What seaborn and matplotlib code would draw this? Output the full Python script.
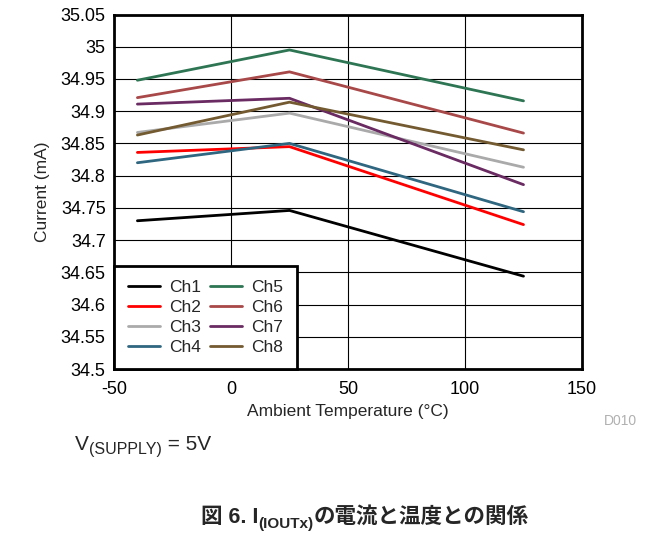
import matplotlib
matplotlib.use('Agg')
from matplotlib import pyplot as plt
import pandas as pd
import seaborn as sns

# temperatures measured (deg C)
temps = [-40, 25, 125]

# current per channel (mA)
ch1 = [34.730, 34.746, 34.644]
ch2 = [34.836, 34.845, 34.724]
ch3 = [34.867, 34.897, 34.813]
ch4 = [34.820, 34.850, 34.744]
ch5 = [34.948, 34.995, 34.916]
ch6 = [34.921, 34.961, 34.866]
ch7 = [34.911, 34.920, 34.786]
ch8 = [34.863, 34.914, 34.840]

channels = ['Ch1', 'Ch2', 'Ch3', 'Ch4', 'Ch5', 'Ch6', 'Ch7', 'Ch8']
colors = ['#000000', '#ff0000', '#aaaaaa', '#2f6680',
          '#2d7553', '#a84848', '#6a2a62', '#735a30']

y_ticks = [34.5, 34.55, 34.6, 34.65, 34.7, 34.75, 34.8, 34.85,
           34.9, 34.95, 35, 35.05]
y_labels = ['34.5', '34.55', '34.6', '34.65', '34.7', '34.75', '34.8',
            '34.85', '34.9', '34.95', '35', '35.05']
x_ticks = [-50, 0, 50, 100, 150]

sns.set_style('white')
plt.rcParams['font.family'] = ['Liberation Sans', 'Noto Sans CJK JP', 'DejaVu Sans']

rows = []
for name, vals in zip(channels, [ch1, ch2, ch3, ch4, ch5, ch6, ch7, ch8]):
    for t, v in zip(temps, vals):
        rows.append({'Temp': t, 'Current': v, 'Channel': name})
df = pd.DataFrame(rows)

fig = plt.figure(figsize=(6.69, 5.39), dpi=100)
ax = fig.add_axes([114 / 669, 1 - 369 / 539, 468 / 669, 354.5 / 539])

sns.lineplot(data=df, x='Temp', y='Current', hue='Channel', hue_order=channels,
             palette=colors, linewidth=2, ax=ax, legend=True)

ax.set_xlim(-50, 150)
ax.set_ylim(34.5, 35.05)
ax.set_xticks(x_ticks)
ax.set_xticklabels([str(t) for t in x_ticks])
ax.set_yticks(y_ticks)
ax.set_yticklabels(y_labels)
ax.tick_params(axis='both', length=0, labelsize=13, colors='black')
ax.tick_params(axis='x', pad=9)
ax.tick_params(axis='y', pad=6)
ax.grid(True, color='black', linewidth=0.8)
ax.set_axisbelow(True)
for s in ax.spines.values():
    s.set_color('black')
    s.set_linewidth(2)

ax.set_xlabel('Ambient Temperature (°C)', fontsize=12.5, labelpad=4)
ax.set_ylabel('Current (mA)', fontsize=12.5, labelpad=8)

leg = ax.legend(loc='lower left', ncol=2, fontsize=12.5, frameon=True,
                fancybox=False, borderaxespad=0, handlelength=1.85,
                handletextpad=0.5, columnspacing=0.55, labelspacing=0.28,
                borderpad=0.8)
leg.get_frame().set_edgecolor('black')
leg.get_frame().set_linewidth(2)
leg.get_frame().set_alpha(1)

fig.text(620 / 669, 1 - 421 / 539, 'D010', fontsize=10, color='#b0b0b0',
         ha='center', va='center')

fig.canvas.draw()
r = fig.canvas.get_renderer()


def put_pieces(x0, y0, pieces):
    # lay text pieces side by side, so subscripts can be shifted down
    x = x0
    for txt, size, dy, weight in pieces:
        t = fig.text(x, y0 + dy, txt, fontsize=size, fontweight=weight,
                     ha='left', va='baseline')
        bb = t.get_window_extent(renderer=r)
        x += bb.width / fig.bbox.width


# supply voltage note
put_pieces(75 / 669, 1 - 450 / 539,
           [('V', 15, 0, 'normal'),
            ('(SUPPLY)', 11.5, -4 / 539, 'normal'),
            (' = 5V', 15, 0, 'normal')])

# figure caption
put_pieces(201 / 669, 1 - 523 / 539,
           [('図 6. I', 15.5, 0, 'bold'),
            ('(IOUTx)', 11, -5 / 539, 'bold'),
            ('の電流と温度との関係', 15.5, 0, 'bold')])

fig.savefig('out.png', dpi=100)
